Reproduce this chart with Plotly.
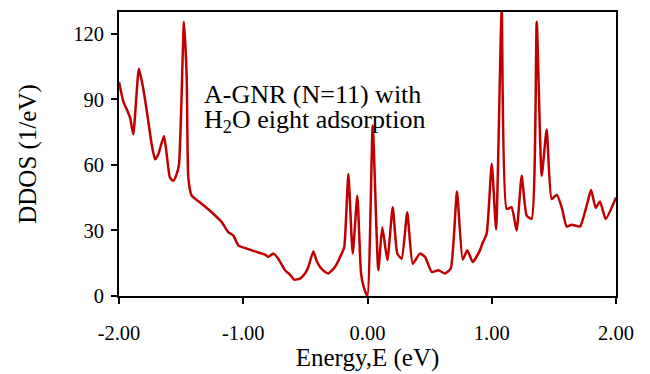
import plotly.graph_objects as go

energy = [-2.0, -1.965, -1.93, -1.91, -1.885, -1.84, -1.805, -1.764, -1.737, -1.71,
          -1.684, -1.638, -1.616, -1.59, -1.563, -1.536, -1.517, -1.50, -1.477, -1.455,
          -1.442, -1.415, -1.375, -1.33, -1.268, -1.173, -1.12, -1.08, -1.04, -0.972,
          -0.892, -0.825, -0.798, -0.758, -0.718, -0.664, -0.624, -0.590, -0.543, -0.503,
          -0.476, -0.436, -0.409, -0.382, -0.340, -0.315, -0.262, -0.208, -0.187, -0.154,
          -0.119, -0.082, -0.052, -0.030, -0.001, 0.042, 0.087, 0.119, 0.16, 0.203,
          0.24, 0.275, 0.32, 0.364, 0.422, 0.463, 0.517, 0.57, 0.624, 0.67,
          0.720, 0.766, 0.803, 0.847, 0.905, 0.924, 0.959, 1.0, 1.035, 1.08,
          1.12, 1.16, 1.2, 1.241, 1.281, 1.321, 1.362, 1.402, 1.442, 1.482,
          1.523, 1.563, 1.603, 1.643, 1.71, 1.764, 1.799, 1.837, 1.871, 1.917, 2.0]
ddos = [98, 89, 84.5, 81.5, 74, 104, 95, 80, 69.4, 62.6,
        64.8, 73.2, 64.8, 54.2, 52.7, 55.8, 60.3, 84.5, 125.5, 99.7,
        54.2, 45.9, 44, 42, 39, 33.8, 29.2, 27.7, 23.2, 21.7,
        20.2, 18.9, 17.9, 19.4, 17.1, 11.8, 9.8, 7.5, 8, 10.3,
        13.3, 20.4, 16, 13.3, 11, 10.3, 13.3, 19.4, 22.4, 55.8,
        19.4, 45.9, 10.3, 4, 0, 78, 11.8, 31.5, 16.4, 40.6,
        19.4, 17.1, 38.3, 14.8, 19.4, 17.9, 11, 11.8, 10.3, 12.6,
        47.8, 16.7, 20.9, 15.6, 20.9, 24, 28.5, 60.5, 30.5, 131,
        39.8, 40.6, 30, 55, 36.8, 35.3, 125.5, 55, 76.2, 44.4,
        46.4, 40.6, 31.8, 32.6, 31.8, 41.4, 48.5, 40.3, 43.3, 35.3, 45.1]

x_tickvals = [-2, -1, 0, 1, 2]
x_ticktext = ["-2.00", "-1.00", "0.00", "1.00", "2.00"]
y_tickvals = [0, 30, 60, 90, 120]
label_lines = ["A-GNR (N=11) with", "H<sub>2</sub>O eight adsorption"]

font_family = "Liberation Serif"

fig = go.Figure()
fig.add_trace(go.Scatter(x=energy, y=ddos, mode="lines",
                         line=dict(color="#C00000", width=2.5, shape="spline", smoothing=0.5),
                         showlegend=False, cliponaxis=True))

fig.add_annotation(x=-1.33, y=92.3, xref="x", yref="y", xanchor="left", yanchor="middle",
                   text=label_lines[0], showarrow=False, align="left",
                   font=dict(family=font_family, size=26, color="black"))
fig.add_annotation(x=-1.33, y=80.0, xref="x", yref="y", xanchor="left", yanchor="middle",
                   text=label_lines[1], showarrow=False, align="left",
                   font=dict(family=font_family, size=26, color="black"))

fig.update_layout(
    width=650, height=374,
    margin=dict(l=119, r=34, t=10, b=78),
    paper_bgcolor="white", plot_bgcolor="white",
    font=dict(family=font_family, size=20.5, color="black"),
    xaxis=dict(range=[-2, 2], tickvals=x_tickvals, ticktext=x_ticktext,
               ticks="outside", ticklen=6, tickwidth=2, tickcolor="black",
               tickfont=dict(family=font_family, size=20.5), ticklabelstandoff=11,
               showline=True, linecolor="black", linewidth=2, mirror=True,
               showgrid=False, zeroline=False,
               title=dict(text="Energy,E (eV)", font=dict(family=font_family, size=25), standoff=0)),
    yaxis=dict(range=[0, 130], tickvals=y_tickvals,
               ticks="outside", ticklen=6, tickwidth=2, tickcolor="black",
               tickfont=dict(family=font_family, size=20.5), ticklabelstandoff=3,
               showline=True, linecolor="black", linewidth=2, mirror=True,
               showgrid=False, zeroline=False,
               title=dict(text="DDOS (1/eV)", font=dict(family=font_family, size=25), standoff=29)),
)

fig.write_html("out.html")
